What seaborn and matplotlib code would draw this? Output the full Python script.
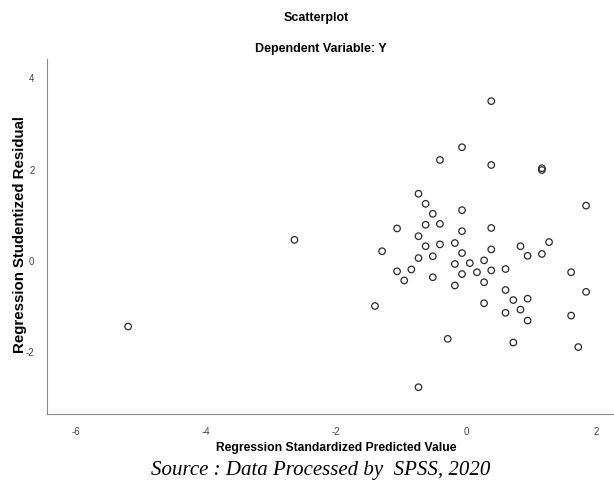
import pandas as pd
import seaborn as sns
import matplotlib.pyplot as plt

# values
pred_std = [
    -5.20, -2.64,
    0.39, -0.06, -0.40, 0.39, 1.17, 1.17, -0.73, -0.62, -0.51, -0.06, 1.85,
    -1.06, -0.62, -0.40, -0.06, 0.39, -0.73,
    -1.29, -0.62, -0.40, -0.17, -0.06, 0.39, 0.84, 1.28, -0.73, -0.51, 0.95, 1.17,
    -1.06, -0.84, -0.95, -0.51, -0.17, 0.06, -0.06, 0.17, 0.28, 0.39, 0.61, 1.62,
    -0.17, 0.28, 0.61, 1.85,
    -1.40, 0.28, 0.73, 0.95, 0.84, 0.61, 0.95, 1.62,
    -0.28, 0.73, 1.73, -0.73,
]
resid_stud = [
    -1.46, 0.44,
    3.48, 2.47, 2.19, 2.08, 2.01, 1.97, 1.45, 1.23, 1.01, 1.09, 1.19,
    0.69, 0.77, 0.79, 0.63, 0.70, 0.52,
    0.19, 0.30, 0.34, 0.37, 0.15, 0.23, 0.30, 0.39, 0.04, 0.08, 0.09, 0.13,
    -0.25, -0.21, -0.45, -0.38, -0.09, -0.07, -0.31, -0.27, -0.01, -0.23, -0.20, -0.27,
    -0.56, -0.49, -0.66, -0.70,
    -1.01, -0.95, -0.88, -0.85, -1.09, -1.16, -1.33, -1.22,
    -1.73, -1.81, -1.91, -2.79,
]
x_ticks = [-6, -4, -2, 0, 2]
y_ticks = [-2, 0, 2, 4]

df = pd.DataFrame({"pred": pred_std, "resid": resid_stud})

sns.set_style("white")
plt.rcParams["font.family"] = ["Liberation Sans", "DejaVu Sans"]
plt.rcParams["axes.unicode_minus"] = False

fig = plt.figure(figsize=(6.14, 4.89), dpi=100)
ax = fig.add_axes([0.0765, 0.152, 0.9235, 0.725])

sns.scatterplot(data=df, x="pred", y="resid", ax=ax, marker="o", s=22,
                linewidth=0.9, edgecolor="#2a2a2a")
ax.collections[0].set_facecolor("none")

ax.set_xlim(-6.45, 2.28)
ax.set_ylim(-3.37, 4.40)
ax.set_xticks(x_ticks)
ax.set_yticks(y_ticks)
ax.tick_params(length=0, labelsize=7, colors="#444444", pad=9)

ax.spines["top"].set_visible(False)
ax.spines["right"].set_visible(False)
ax.spines["left"].set_color("#8a8a8a")
ax.spines["bottom"].set_color("#8a8a8a")
ax.set_xlabel("")
ax.set_ylabel("")

fig.text(0.515, 0.963, "Scatterplot", ha="center", va="center",
         fontsize=9, fontweight="bold", color="black")
fig.text(0.522, 0.900, "Dependent Variable: Y", ha="center", va="center",
         fontsize=9, fontweight="bold", color="black")
fig.text(0.548, 0.083, "Regression Standardized Predicted Value", ha="center",
         va="center", fontsize=8.7, fontweight="bold", color="black")
fig.text(0.033, 0.52, "Regression Studentized Residual", ha="center",
         va="center", rotation=90, fontsize=10.8, fontweight="bold",
         color="black")
fig.text(0.522, 0.038, "Source : Data Processed by  SPSS, 2020", ha="center",
         va="center", fontsize=15, style="italic", color="black",
         family=["Liberation Serif", "DejaVu Serif"])

fig.savefig("out.png", dpi=100)
